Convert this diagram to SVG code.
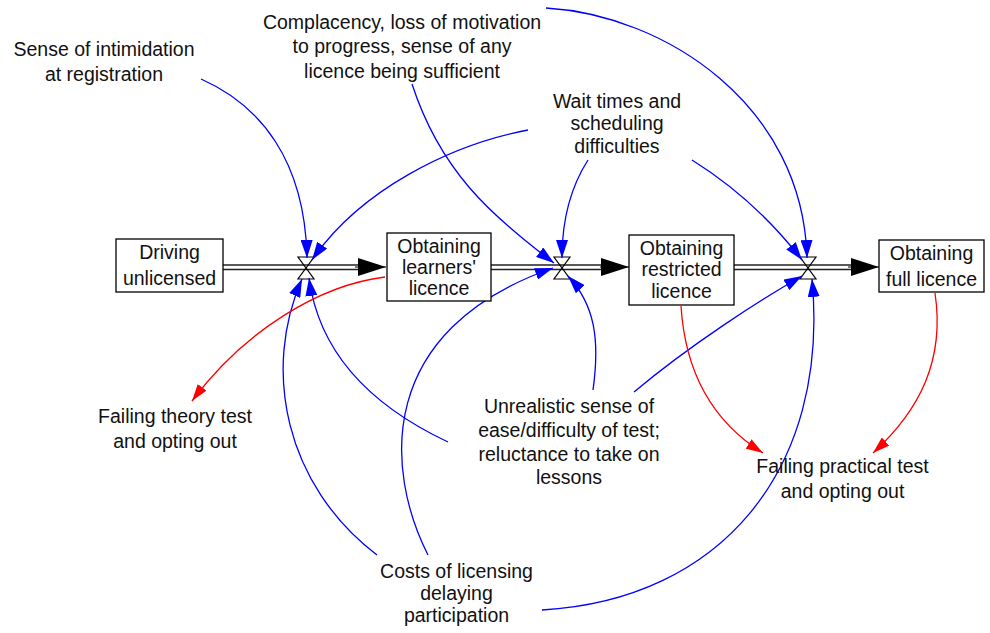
<svg xmlns="http://www.w3.org/2000/svg" width="990" height="633" viewBox="0 0 990 633">
<defs>
<style>
text{font-family:"Liberation Sans",Arial,sans-serif;font-size:19.5px;fill:#111;text-anchor:middle}
.box{fill:#fff;stroke:#000;stroke-width:1.3}
.pipe{stroke:#222;stroke-width:1.6;fill:none}
.valve{fill:none;stroke:#000;stroke-width:1.2}
.blue{fill:none;stroke:#0000ff;stroke-width:1.3;marker-end:url(#ab)}
.red{fill:none;stroke:#ff0000;stroke-width:1.3;marker-end:url(#ar)}
</style>
<marker id="ab" markerUnits="userSpaceOnUse" markerWidth="18" markerHeight="12" refX="18" refY="6" orient="auto"><path d="M0,0 L18,6 L0,12 Z" fill="#0000ff"/></marker>
<marker id="ar" markerUnits="userSpaceOnUse" markerWidth="17" markerHeight="11" refX="17" refY="5.5" orient="auto"><path d="M0,0 L17,5.5 L0,11 Z" fill="#ff0000"/></marker>
<marker id="ak" markerUnits="userSpaceOnUse" markerWidth="28" markerHeight="18" refX="28" refY="9" orient="auto"><path d="M0,0 L28,9 L0,18 Z" fill="#000"/></marker>
</defs>
<rect width="990" height="633" fill="#fff"/>

<g id="flows">
<line class="pipe" x1="223" y1="265" x2="362" y2="265"/>
<line class="pipe" x1="223" y1="269.5" x2="362" y2="269.5"/>
<line x1="355" y1="267" x2="386" y2="267" stroke="#000" stroke-width="1" marker-end="url(#ak)"/>
<path class="valve" d="M298,257 L314,257 L306,268 Z M298,279 L314,279 L306,268 Z"/>

<line class="pipe" x1="491" y1="265" x2="606" y2="265"/>
<line class="pipe" x1="491" y1="269.5" x2="606" y2="269.5"/>
<line x1="600" y1="267" x2="629" y2="267" stroke="#000" stroke-width="1" marker-end="url(#ak)"/>
<path class="valve" d="M554,257 L570,257 L562,268 Z M554,279 L570,279 L562,268 Z"/>

<line class="pipe" x1="734" y1="265" x2="853" y2="265"/>
<line class="pipe" x1="734" y1="269.5" x2="853" y2="269.5"/>
<line x1="848" y1="267" x2="879" y2="267" stroke="#000" stroke-width="1" marker-end="url(#ak)"/>
<path class="valve" d="M800,257 L816,257 L808,268 Z M800,279 L816,279 L808,268 Z"/>
</g>

<g id="connectors">
<path class="blue" d="M201,79 C260,105 305,160 307,258"/>
<path class="blue" d="M528,130 C450,145 360,190 312,260"/>
<path class="blue" d="M412,84 C440,170 490,215 554,263"/>
<path class="blue" d="M546,8 C665,15 803,105 807,258"/>
<path class="blue" d="M588,160 C572,185 562,215 562,258"/>
<path class="blue" d="M692,160 C740,190 775,225 802,260"/>
<path class="blue" d="M448,442 C380,410 320,360 309,278"/>
<path class="blue" d="M593,390 C600,340 595,305 568,276"/>
<path class="blue" d="M634,392 C690,345 760,300 802,276"/>
<path class="blue" d="M377,555 C285,485 262,370 302,279"/>
<path class="blue" d="M428,555 C385,470 375,330 553,268"/>
<path class="blue" d="M542,610 C720,600 830,470 812,279"/>
<path class="red" d="M385,277 C320,285 245,330 192,401"/>
<path class="red" d="M681,306 C685,370 710,420 763,453"/>
<path class="red" d="M935,293 C945,360 920,410 873,453"/>
</g>

<g id="driving-unlicensed">
<rect class="box" x="116" y="239" width="107" height="53"/>
<text x="169.5" y="259">Driving</text>
<text x="169.5" y="285">unlicensed</text>
</g>
<g id="learners-licence">
<rect class="box" x="387" y="233" width="104" height="68"/>
<text x="439" y="253">Obtaining</text>
<text x="439" y="274">learners'</text>
<text x="439" y="295">licence</text>
</g>
<g id="restricted-licence">
<rect class="box" x="629" y="235" width="105" height="70"/>
<text x="681.5" y="255">Obtaining</text>
<text x="681.5" y="276">restricted</text>
<text x="681.5" y="298">licence</text>
</g>
<g id="full-licence">
<rect class="box" x="879" y="240" width="105" height="52"/>
<text x="931.5" y="260">Obtaining</text>
<text x="931.5" y="286">full licence</text>
</g>

<g id="intimidation">
<text x="104" y="56">Sense of intimidation</text>
<text x="104" y="81">at registration</text>
</g>
<g id="complacency">
<text x="402" y="29">Complacency, loss of motivation</text>
<text x="402" y="53">to progress, sense of any</text>
<text x="402" y="78">licence being sufficient</text>
</g>
<g id="wait-times">
<text x="617" y="108">Wait times and</text>
<text x="617" y="130">scheduling</text>
<text x="617" y="153">difficulties</text>
</g>
<g id="failing-theory">
<text x="175" y="423">Failing theory test</text>
<text x="175" y="448">and opting out</text>
</g>
<g id="unrealistic">
<text x="569" y="413">Unrealistic sense of</text>
<text x="569" y="437">ease/difficulty of test;</text>
<text x="569" y="461">reluctance to take on</text>
<text x="569" y="484">lessons</text>
</g>
<g id="failing-practical">
<text x="842.5" y="473">Failing practical test</text>
<text x="842.5" y="498">and opting out</text>
</g>
<g id="costs">
<text x="456.5" y="578">Costs of licensing</text>
<text x="456.5" y="600">delaying</text>
<text x="456.5" y="622">participation</text>
</g>
</svg>
